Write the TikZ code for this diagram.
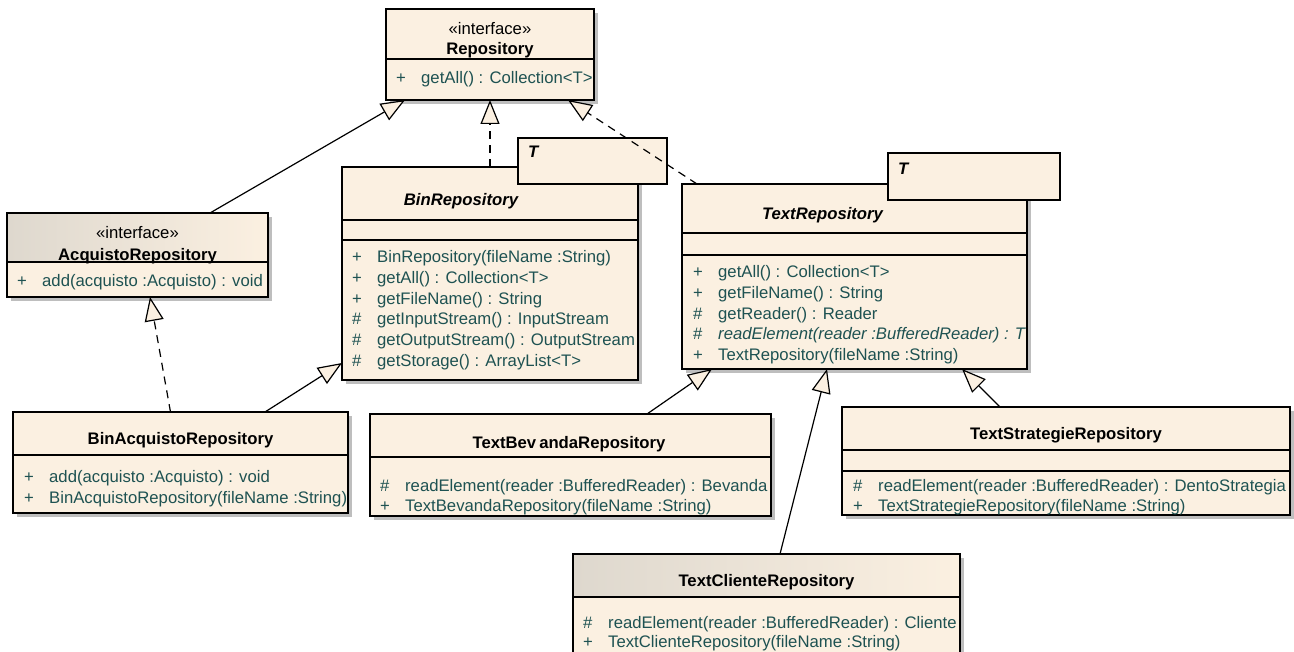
\documentclass[tikz,border=0pt]{standalone}
\usepackage{fontspec}
\setmainfont{Liberation Sans}
\usetikzlibrary{arrows.meta,shadows}
\definecolor{beige}{RGB}{251,240,225}
\definecolor{membc}{RGB}{30,82,82}
\definecolor{shadowc}{RGB}{190,190,190}
\definecolor{headgray}{RGB}{222,216,206}
\tikzset{
 cls/.style={draw=black, line width=1.3pt, fill=beige, inner sep=0pt, outer sep=0pt, anchor=north west,
   drop shadow={shadow xshift=4pt, shadow yshift=-4pt, fill=shadowc, opacity=1}},
 tmpl/.style={draw=black, line width=1.3pt, fill=beige, inner sep=0pt, outer sep=0pt, anchor=north west},
 ttl/.style={font=\fontsize{16.7}{20}\selectfont\bfseries, inner sep=0pt, anchor=base},
 ittl/.style={font=\fontsize{16.7}{20}\selectfont\bfseries\itshape, inner sep=0pt, anchor=base},
 stereo/.style={font=\fontsize{16.7}{20}\selectfont, inner sep=0pt, anchor=base},
 memb/.style={font=\fontsize{16.7}{20}\selectfont, text=membc, inner sep=0pt, anchor=base west},
 tlab/.style={font=\fontsize{16.7}{20}\selectfont\bfseries\itshape, inner sep=0pt, anchor=base west},
 sepl/.style={line width=1.3pt},
 gen/.style={line width=1.2pt, -{Triangle[length=24pt,width=19pt,fill=beige,line width=1.2pt]}},
 real/.style={gen, dash pattern=on 8pt off 6pt},
}
\newcommand{\sym}[1]{\makebox[25pt][l]{#1}}
\begin{document}
\begin{tikzpicture}[x=1pt,y=-1pt]
\path[use as bounding box, clip] (0,0) rectangle (1294,652);
\fill[white] (0,0) rectangle (1294,652);

% Repository
\node[cls, minimum width=208pt, minimum height=91pt] (repo) at (386,9) {};
\draw[sepl] (386,59) -- (594,59);
\node[stereo] (repo-s) at (490,35) {«interface»};
\node[ttl] (repo-t) at (490,55) {Repository};
\node[memb] (repo-m1) at (396,84) {\sym{+}getAll() : Collection<T>};

% AcquistoRepository
\node[cls, minimum width=261pt, minimum height=84pt] (acq) at (7,213) {};
\shade[left color=headgray, right color=beige] (7.7,213.7) rectangle (267.3,261.5);
\draw[line width=1.3pt] (7,213) rectangle (268,297);
\draw[sepl] (7,262) -- (268,262);
\node[stereo] (acq-s) at (137.5,239) {«interface»};
\node[ttl] (acq-t) at (137.5,261) {AcquistoRepository};
\node[memb] (acq-m1) at (17,287) {\sym{+}add(acquisto :Acquisto) : void};

% BinRepository
\node[cls, minimum width=296pt, minimum height=213pt] (binrepo) at (342,167) {};
\draw[sepl] (342,220) -- (638,220);
\draw[sepl] (342,240) -- (638,240);
\node[tmpl, minimum width=149pt, minimum height=46pt] (bint) at (518,138) {};
\node[tlab] (bint-l) at (528,158) {T};
\node[ittl] (binrepo-t) at (461,206) {BinRepository};
\node[memb] (bin-m1) at (352,263) {\sym{+}BinRepository(fileName :String)};
\node[memb] (bin-m2) at (352,284) {\sym{+}getAll() : Collection<T>};
\node[memb] (bin-m3) at (352,304.5) {\sym{+}getFileName() : String};
\node[memb] (bin-m4) at (352,325) {\sym{\#}getInputStream() : InputStream};
\node[memb] (bin-m5) at (352,346) {\sym{\#}getOutputStream() : OutputStream};
\node[memb] (bin-m6) at (352,366.5) {\sym{\#}getStorage() : ArrayList<T>};

% TextRepository
\node[cls, minimum width=345pt, minimum height=185pt] (textrepo) at (682,184) {};
\draw[sepl] (682,233) -- (1027,233);
\draw[sepl] (682,255) -- (1027,255);
\node[tmpl, minimum width=172pt, minimum height=47pt] (textt) at (888,153) {};
\node[tlab] (textt-l) at (898,175) {T};
\node[ittl] (textrepo-t) at (822.5,220) {TextRepository};
\node[memb] (txt-m1) at (693,278) {\sym{+}getAll() : Collection<T>};
\node[memb] (txt-m2) at (693,298.5) {\sym{+}getFileName() : String};
\node[memb] (txt-m3) at (693,319.5) {\sym{\#}getReader() : Reader};
\node[memb] (txt-m4) at (693,340) {\sym{\#}\textit{readElement(reader :BufferedReader) : T}};
\node[memb] (txt-m5) at (693,360.5) {\sym{+}TextRepository(fileName :String)};

% BinAcquistoRepository
\node[cls, minimum width=335pt, minimum height=101pt] (binacq) at (13,412) {};
\draw[sepl] (13,455) -- (348,455);
\node[ttl] (binacq-t) at (180.5,444) {BinAcquistoRepository};
\node[memb] (ba-m1) at (24,482.5) {\sym{+}add(acquisto :Acquisto) : void};
\node[memb] (ba-m2) at (24,503.5) {\sym{+}BinAcquistoRepository(fileName :String)};

% TextBevandaRepository
\node[cls, minimum width=401pt, minimum height=102pt] (textbev) at (370,414) {};
\draw[sepl] (370,457) -- (771,457);
\node[ttl] (textbev-t) at (569,448) {TextBev\kern3ptandaRepository};
\node[memb] (tb-m1) at (380,491) {\sym{\#}readElement(reader :BufferedReader) : Bevanda};
\node[memb] (tb-m2) at (380,511.5) {\sym{+}TextBevandaRepository(fileName :String)};

% TextStrategieRepository
\node[cls, minimum width=448pt, minimum height=108pt] (textstr) at (842,407) {};
\draw[sepl] (842,450) -- (1290,450);
\draw[sepl] (842,471) -- (1290,471);
\node[ttl] (textstr-t) at (1066,439) {TextStrategieRepository};
\node[memb] (ts-m1) at (853,491) {\sym{\#}readElement(reader :BufferedReader) : DentoStrategia};
\node[memb] (ts-m2) at (853,511) {\sym{+}TextStrategieRepository(fileName :String)};

% TextClienteRepository
\node[cls, minimum width=387pt, minimum height=120pt] (textcli) at (573,554) {};
\shade[left color=headgray, right color=beige] (573.7,554.7) rectangle (959.3,596.5);
\draw[line width=1.3pt] (573,554) rectangle (960,674);
\draw[sepl] (573,597) -- (960,597);
\node[ttl] (textcli-t) at (766.5,586) {TextClienteRepository};
\node[memb] (tc-m1) at (583,628) {\sym{\#}readElement(reader :BufferedReader) : Cliente};
\node[memb] (tc-m2) at (583,647) {\sym{+}TextClienteRepository(fileName :String)};

% connectors
\draw[gen] ([xshift=72.5pt]acq.north) -- ([xshift=19pt]repo.south west);
\draw[real] (binrepo.north) -- (repo.south);
\draw[real] ([xshift=15pt]textrepo.north west) -- ([xshift=-26pt]repo.south east);
\draw[real] ([xshift=-10pt]binacq.north) -- ([xshift=12.5pt]acq.south);
\draw[gen] ([xshift=84.5pt]binacq.north) -- ([yshift=17pt]binrepo.south west);
\draw[gen] ([xshift=76.5pt]textbev.north) -- ([xshift=30pt]textrepo.south west);
\draw[gen] ([xshift=13.5pt]textcli.north) -- ([xshift=-27.5pt]textrepo.south);
\draw[gen] ([xshift=-66pt]textstr.north) -- ([xshift=-65pt]textrepo.south east);
\end{tikzpicture}
\end{document}
